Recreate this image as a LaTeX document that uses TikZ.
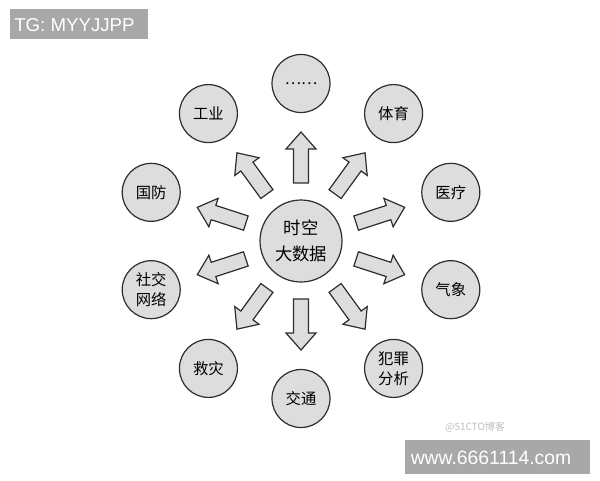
\documentclass[tikz,border=0pt]{standalone}
\usepackage{fontspec}
\setmainfont{Liberation Sans}
\newfontfamily\cjk{Noto Sans CJK SC}

\definecolor{ballfill}{RGB}{221,221,221}
\definecolor{edgegray}{RGB}{45,45,45}
\definecolor{markgray}{RGB}{168,168,168}
\definecolor{softgray}{RGB}{190,190,190}

\tikzset{
  ball/.style={circle, draw=edgegray, fill=ballfill, line width=0.9, minimum size=43.5pt, inner sep=0pt, align=center, font=\cjk\fontsize{11.5}{15}\selectfont},
  hubball/.style={ball, minimum size=61.5pt, font=\cjk\fontsize{13}{19}\selectfont},
  blockarrow/.style={draw=edgegray, fill=ballfill, line width=0.9, line join=miter},
  tag/.style={inner sep=0pt, text=white},
}

\begin{document}
\begin{tikzpicture}[x=0.75pt,y=0.75pt,yscale=-1,xscale=1]
			\useasboundingbox (0,0) rectangle (600,480);
			
			% hub and ring
			\begin{scope}[shift={(301,241)}]
				\node [hubball] (hub) at (0,0) {时空\\大数据};
				
				\foreach \a/\id/\txt in {270/etc/\raisebox{-0.05em}[0pt][0pt]{……}, 306/tiyu/体育, 342/yiliao/医疗, 18/qixiang/气象, 54/fanzui/犯罪\\分析, 90/jiaotong/交通, 126/jiuzai/救灾, 162/shejiao/社交\\网络, 198/guofang/国防, 234/gongye/工业}{
					\node [ball] (\id) at (\a:157.5) {\txt};
					
					%Right Arrow
					\draw [blockarrow, rotate=\a] (58,-7.5) -- (92,-7.5) -- (92,-15) -- (109,0) -- (92,15) -- (92,7.5) -- (58,7.5) -- cycle ;
				}
			\end{scope}
			
			% Text Node
			\fill [markgray] (10,9) rectangle (148,39);
			\node [tag, anchor=west, font=\fontsize{14}{16}\selectfont] (tg) at (14,25) {TG: MYYJJPP};
			
			% Text Node
			\node [inner sep=0pt, text=softgray, font=\cjk\fontsize{7.5}{9}\selectfont] (blog) at (475,427) {@51CTO博客};
			\fill [markgray] (405,440) rectangle (590,474);
			\node [tag, font=\fontsize{14.5}{16}\selectfont] (www) at (491,458) {www.6661114.com};
		\end{tikzpicture}
\end{document}
